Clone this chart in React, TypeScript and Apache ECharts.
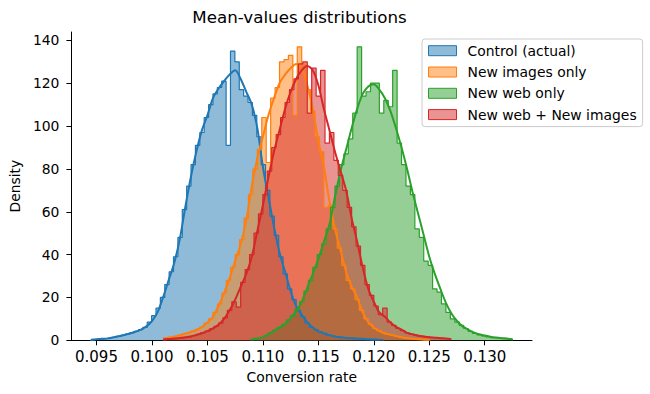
import React, { useEffect, useRef } from "react";
import * as echarts from "echarts";

const LABELS = ["Control (actual)", "New images only", "New web only", "New web + New images"];
const COLORS = ["#1f77b4", "#ff7f0e", "#2ca02c", "#d62728"];
const FILLS = ["rgba(31,119,180,0.5)", "rgba(255,127,14,0.5)", "rgba(44,160,44,0.5)", "rgba(214,39,40,0.5)"];

const X_TICKS = [0.095, 0.1, 0.105, 0.11, 0.115, 0.12, 0.125, 0.13];
const Y_TICKS = [0, 20, 40, 60, 80, 100, 120, 140];
const X_MIN = 0.09274;
const X_MAX = 0.13426;
const Y_MAX = 143.9;

// histogram bins: first edge and width for each group
const BIN_START = [0.09444, 0.1011, 0.1089, 0.1012];
const BIN_WIDTH = [0.000395, 0.0004, 0.0004, 0.0004];

const controlHist = [0.3, 0.5, 0.7, 0.9, 1.2, 1.5, 1.9, 2.4, 2.9, 3.5, 4.2, 5.0, 6, 8.5, 11.5, 15, 20, 26, 32, 39, 48, 61, 72, 82, 91, 97, 104, 110, 115, 118, 121, 91, 135, 130, 117, 114, 111, 105, 95, 82, 70, 58, 49, 39, 31, 24, 19, 14, 11, 8, 6, 5, 4, 3.2, 2.4, 1.9, 1.5, 1.2, 1.0, 0.9, 0.8, 0.7, 0.5, 0.4, 0.3, 0.3, 0.2];
const imagesHist = [0.9, 1.4, 1.8, 2.4, 3.0, 3.6, 4.3, 5.1, 6.2, 8, 10, 13, 17, 22, 28, 34, 40, 47, 57, 68, 80, 89, 104, 83, 113, 118, 130, 131, 133, 105, 137, 129, 117, 107, 95, 88, 62, 63, 52, 43, 35, 28, 24, 19, 14, 10, 7.5, 5.5, 4.5, 3.5, 2.8, 2.3, 1.8, 1.4, 1.0, 0.8, 0.6, 0.4, 0.3, 0.2];
const webHist = [0.4, 0.8, 1.3, 2.2, 3.5, 4.8, 6, 7.4, 9.5, 11.5, 14.5, 18, 23, 28, 34, 40, 45, 52, 62, 72, 82, 87, 94, 106, 137, 114, 116, 120, 120, 106, 112, 109, 126, 92, 82, 72, 68, 52, 48, 37, 35, 24, 22.5, 17, 13, 10, 8.5, 7, 5.5, 4.2, 3.2, 2.5, 2, 1.6, 1.2, 1.0, 0.8, 0.6, 0.4];
const webImagesHist = [0.5, 0.7, 0.9, 1.1, 1.4, 1.7, 2.2, 2.8, 3.5, 4.3, 5.4, 6.5, 8, 10.5, 14, 18, 15.5, 27, 33, 40, 50, 59, 68, 79, 90, 96, 104, 111, 117, 122, 129, 130, 106, 127, 114, 126, 92, 97, 84, 77, 70, 62, 53, 44, 35, 26, 21, 16, 12, 15, 8.5, 7, 5.5, 4.5, 3.5, 2.8, 2.4, 2.0, 1.7, 1.4, 1.2, 1.0, 0.8, 0.6];

// KDE curves, sampled every KDE_STEP from KDE_START
const KDE_STEP = 0.0005;
const KDE_START = [0.0945, 0.101, 0.109, 0.101];
const controlKde = [0.3, 0.5, 0.7, 0.9, 1.4, 1.9, 2.5, 3.2, 4.0, 5.0, 6.5, 9, 13, 20, 28, 36, 47, 62, 76, 88, 98, 105, 113, 117.5, 121, 124, 126, 122, 116, 110, 99, 81, 67, 53, 41, 32, 23, 16, 12, 8.5, 6, 4.2, 3.2, 2.4, 1.8, 1.4, 1.1, 0.9, 0.8, 0.7, 0.5, 0.4, 0.3];
const imagesKde = [0.8, 1.2, 1.7, 2.3, 3.1, 3.8, 4.8, 6.2, 8.3, 11, 16, 22, 29, 37, 45, 56, 72, 85, 95, 105, 113, 120, 124, 127, 129, 127, 119, 108, 93, 81, 65, 52, 42, 32, 25, 20, 13, 8.5, 6, 4.3, 3.2, 2.6, 2, 1.4, 1.0, 0.7, 0.5, 0.3, 0.2];
const webKde = [0.4, 0.9, 1.5, 2.8, 4.4, 5.9, 7.6, 10.5, 13.5, 18, 24.5, 31, 38, 46, 54, 67, 79, 89, 99, 108, 115, 118.5, 119.5, 117, 113, 107, 99, 90, 80, 69, 59, 49, 39, 31, 24, 17.5, 12.5, 9, 6.5, 5, 3.7, 2.8, 2.2, 1.7, 1.3, 1.0, 0.8, 0.5];
const webImagesKde = [0.4, 0.6, 0.8, 1.1, 1.4, 1.8, 2.5, 3.3, 4.3, 5.6, 7.3, 10, 14, 19, 25, 31, 39, 51, 63, 76, 88, 98, 108, 116, 122, 126, 128, 126, 119, 108, 98, 88, 79, 70, 57, 46, 34, 24, 18, 13, 11, 8.3, 6.3, 5, 3.5, 2.8, 2.1, 1.7, 1.4, 1.2, 1.0, 0.9, 0.5];

const HISTS = [controlHist, imagesHist, webHist, webImagesHist];
const KDES = [controlKde, imagesKde, webKde, webImagesKde];

const FONT = "DejaVu Sans";

function histPoints(start: number, width: number, heights: number[]) {
  const pts: number[][] = [[start, 0]];
  heights.forEach((h, i) => pts.push([start + i * width, h]));
  pts.push([start + heights.length * width, 0]);
  return pts;
}

function kdePoints(start: number, values: number[]) {
  return values.map((v, i) => [start + i * KDE_STEP, v]);
}

export default function App() {
  const ref = useRef<HTMLDivElement>(null);
  useEffect(() => {
    if (!ref.current) return;
    const chart = echarts.init(ref.current, undefined, { renderer: "svg" });
    const series: any[] = [];
    for (let i = 0; i < 4; i++) {
      series.push({
        name: LABELS[i],
        type: "line",
        step: "end",
        data: histPoints(BIN_START[i], BIN_WIDTH[i], HISTS[i]),
        symbol: "none",
        showSymbol: false,
        silent: true,
        itemStyle: { color: COLORS[i] },
        lineStyle: { color: COLORS[i], width: 1.2 },
        areaStyle: { color: FILLS[i], opacity: 1 },
      });
      series.push({
        name: LABELS[i] + " kde",
        type: "line",
        smooth: 0.3,
        data: kdePoints(KDE_START[i], KDES[i]),
        symbol: "none",
        showSymbol: false,
        silent: true,
        itemStyle: { color: COLORS[i] },
        lineStyle: { color: COLORS[i], width: 2 },
      });
    }
    chart.setOption({
      animation: false,
      backgroundColor: "#ffffff",
      textStyle: { fontFamily: FONT },
      title: {
        text: "Mean-values distributions",
        left: 299.5,
        top: 8,
        padding: 0,
        textAlign: "center",
        textStyle: { fontFamily: FONT, fontSize: 16.7, fontWeight: "normal", color: "#000" },
      },
      legend: {
        orient: "vertical",
        left: 422,
        top: 39,
        icon: "rect",
        itemWidth: 28,
        itemHeight: 10,
        itemGap: 7.3,
        padding: [4.7, 6, 5, 6],
        selectedMode: false,
        backgroundColor: "rgba(255,255,255,0.8)",
        borderColor: "#cccccc",
        borderWidth: 1,
        borderRadius: 3,
        textStyle: { fontFamily: FONT, fontSize: 13.9, color: "#000", lineHeight: 14, padding: [0, 0, 0, 6] },
        data: LABELS.map((n, i) => ({
          name: n,
          itemStyle: { color: FILLS[i], borderColor: COLORS[i], borderWidth: 1 },
        })),
      },
      grid: { left: 67, top: 32, width: 465, height: 308.3 },
      xAxis: {
        type: "value",
        min: X_MIN,
        max: X_MAX,
        name: "Conversion rate",
        nameLocation: "middle",
        nameGap: 30,
        nameTextStyle: { fontFamily: FONT, fontSize: 13.9, color: "#000" },
        axisLine: { show: true, lineStyle: { color: "#000", width: 1 } },
        axisTick: { show: true, length: 5, customValues: X_TICKS, lineStyle: { color: "#000" } },
        axisLabel: {
          customValues: X_TICKS,
          formatter: (v: number) => v.toFixed(3),
          fontFamily: FONT,
          fontSize: 15,
          color: "#000",
          margin: 9,
        },
        splitLine: { show: false },
      },
      yAxis: {
        type: "value",
        min: 0,
        max: Y_MAX,
        name: "Density",
        nameLocation: "middle",
        nameGap: 44,
        nameRotate: 90,
        nameTextStyle: { fontFamily: FONT, fontSize: 13.9, color: "#000" },
        axisLine: { show: true, lineStyle: { color: "#000", width: 1 } },
        axisTick: { show: true, length: 5, customValues: Y_TICKS, lineStyle: { color: "#000" } },
        axisLabel: {
          customValues: Y_TICKS,
          formatter: (v: number) => String(v),
          fontFamily: FONT,
          fontSize: 13.9,
          color: "#000",
          margin: 12,
        },
        splitLine: { show: false },
      },
      series,
    });
    return () => chart.dispose();
  }, []);
  return (
    <div
      ref={ref}
      style={{ position: "fixed", left: 0, top: 0, width: 650, height: 394, background: "#fff" }}
    />
  );
}
